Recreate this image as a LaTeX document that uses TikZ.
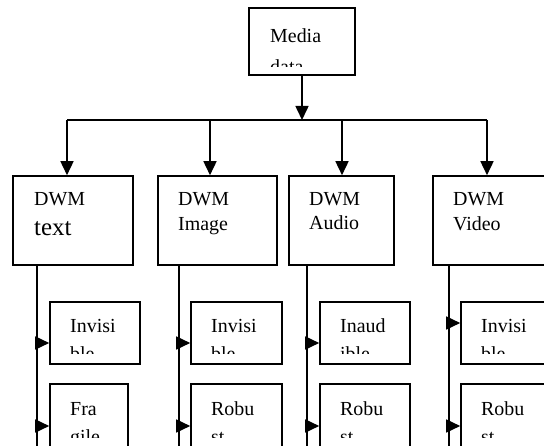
\documentclass[tikz,border=0pt]{standalone}
\usepackage{fontspec}
\setmainfont{Liberation Serif}
\usetikzlibrary{arrows.meta,fit}
\tikzset{
  wbox/.style={draw, line width=1.6bp, inner sep=0pt, fit={#1}},
  conn/.style={line width=1.6bp},
  arr/.style={conn, -{Triangle[length=14bp,width=13bp]}},
  wtext/.style={anchor=base west, inner sep=0pt, font=\fontsize{20}{25}\selectfont},
  bigtext/.style={wtext, font=\fontsize{25}{30}\selectfont},
}
\newcommand{\wbx}[5]{\node[wbox={(#2,#3)(#4,#5)}] (#1) {};}
\begin{document}
\begin{tikzpicture}[x=1bp,y=-1bp]
\useasboundingbox (0,0) rectangle (544,446);
\clip (0,0) rectangle (544,446);
\fill[white] (0,0) rectangle (544,446);

% top box
\wbx{media}{249}{8}{355}{75}
\begin{scope}
\clip (249,8) rectangle (355,67);
\node[wtext] (media-a) at (270,43) {Media};
\node[wtext] (media-b) at (270,74) {data};
\end{scope}

% second row
\wbx{dt}{13}{176}{133}{265}
\node[wtext] (dt-a) at (34,206) {DWM};
\node[bigtext] (dt-b) at (34,236) {text};
\wbx{di}{158}{176}{277}{265}
\node[wtext] (di-a) at (178,206) {DWM};
\node[wtext] (di-b) at (178,231) {Image};
\wbx{da}{289}{176}{394}{265}
\node[wtext] (da-a) at (309,206) {DWM};
\node[wtext] (da-b) at (309,230) {Audio};
\wbx{dv}{433}{176}{560}{265}
\node[wtext] (dv-a) at (453,206) {DWM};
\node[wtext] (dv-b) at (453,231) {Video};

% small boxes row 1
\wbx{t1}{50}{302}{140}{364}
\wbx{i1}{191}{302}{282}{364}
\wbx{a1}{320}{302}{410}{364}
\wbx{v1}{461}{302}{560}{364}
\begin{scope}
\clip (0,302) rectangle (544,353);
\node[wtext] (t1-a) at (70,332) {Invisi};
\node[wtext] (t1-b) at (70,360) {ble};
\node[wtext] (i1-a) at (211,332) {Invisi};
\node[wtext] (i1-b) at (211,360) {ble};
\node[wtext] (a1-a) at (340,332) {Inaud};
\node[wtext] (a1-b) at (340,360) {ible};
\node[wtext] (v1-a) at (481,332) {Invisi};
\node[wtext] (v1-b) at (481,360) {ble};
\end{scope}

% small boxes row 2
\wbx{t2}{50}{384}{128}{470}
\wbx{i2}{191}{384}{282}{470}
\wbx{a2}{320}{384}{410}{470}
\wbx{v2}{461}{384}{560}{470}
\begin{scope}
\clip (0,384) rectangle (544,437);
\node[wtext] (t2-a) at (70,415) {Fra};
\node[wtext] (t2-b) at (70,443) {gile};
\node[wtext] (i2-a) at (211,415) {Robu};
\node[wtext] (i2-b) at (211,443) {st};
\node[wtext] (a2-a) at (340,415) {Robu};
\node[wtext] (a2-b) at (340,443) {st};
\node[wtext] (v2-a) at (481,415) {Robu};
\node[wtext] (v2-b) at (481,443) {st};
\end{scope}

% bus
\coordinate (hl) at (67,120);
\coordinate (hi) at (210,120);
\coordinate (ha) at (342,120);
\coordinate (hr) at (487,120);
\draw[arr] (media.south) -- (media.south |- hl);
\draw[conn] (hl) -- (hr);
\draw[arr] (hl) -- (hl |- dt.north);
\draw[arr] (hi) -- (hi |- di.north);
\draw[arr] (ha) -- (ha |- da.north);
\draw[arr] (hr) -- (hr |- dv.north);

% columns
\coordinate (tb) at (37,450);
\coordinate (ib) at (179,450);
\coordinate (ab) at (307,450);
\coordinate (vb) at (449,450);
\draw[conn] (tb |- dt.south) -- (tb);
\draw[conn] (ib |- di.south) -- (ib);
\draw[conn] (ab |- da.south) -- (ab);
\draw[conn] (vb |- dv.south) -- (vb);

\coordinate (r1) at (0,343);
\coordinate (r1v) at (0,323);
\coordinate (r2) at (0,426);
\draw[arr] (tb |- r1) -- (t1.west |- r1);
\draw[arr] (ib |- r1) -- (i1.west |- r1);
\draw[arr] (ab |- r1) -- (a1.west |- r1);
\draw[arr] (vb |- r1v) -- (v1.west |- r1v);
\draw[arr] (tb |- r2) -- (t2.west |- r2);
\draw[arr] (ib |- r2) -- (i2.west |- r2);
\draw[arr] (ab |- r2) -- (a2.west |- r2);
\draw[arr] (vb |- r2) -- (v2.west |- r2);
\end{tikzpicture}
\end{document}
